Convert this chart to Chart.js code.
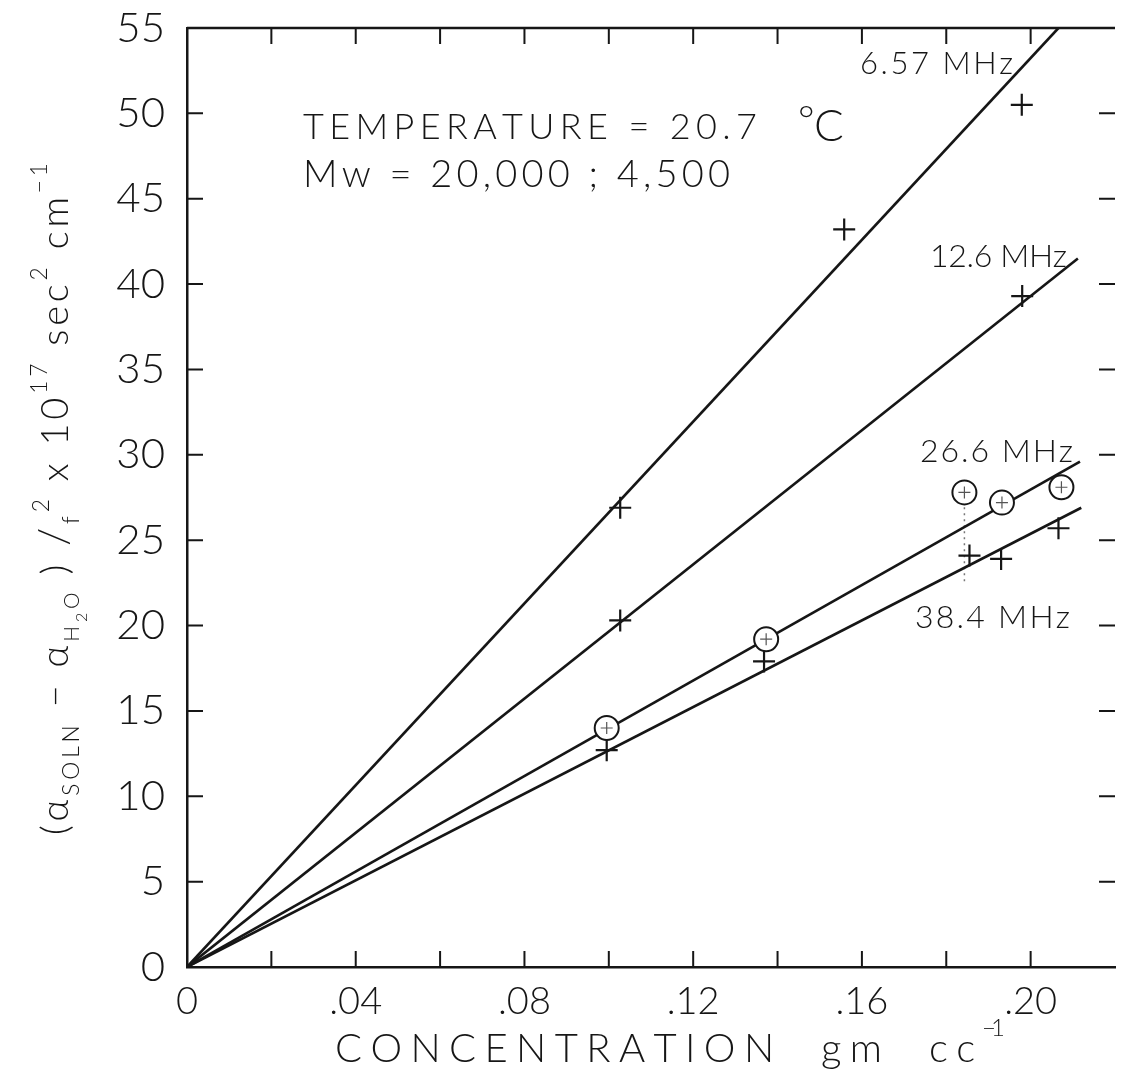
<!DOCTYPE html>
<html>
<head>
<meta charset="utf-8">
<script src="https://cdn.jsdelivr.net/npm/chart.js@4.4.1/dist/chart.umd.min.js"></script>
<style>
  html, body { margin: 0; padding: 0; background: #fff; overflow: hidden; }
  #zone { width: 1129px; height: 1074px; position: relative; }
  #graphe { display: block; }
</style>
</head>
<body>
<div id="zone"><canvas id="graphe"></canvas></div>
<script>
// valeurs (concentration gm/cc, attenuation)
var conc657 = [0.1027, 0.1558, 0.1979];
var alpha657 = [26.9, 43.2, 50.5];
var conc126 = [0.1027, 0.1980];
var alpha126 = [20.3, 39.3];
var conc266 = [0.0995, 0.1373, 0.1843, 0.1932, 0.2073];
var alpha266 = [14.0, 19.2, 27.8, 27.2, 28.1];
var conc384 = [0.0995, 0.1368, 0.1855, 0.1930, 0.2066];
var alpha384 = [12.7, 17.9, 24.1, 23.9, 25.7];

// droites : de l'origine jusqu'a l'extremite (6.57, 12.6, 26.6, 38.4 MHz)
var droiteConc = [0.2066, 0.2112, 0.2117, 0.2120];
var droiteAlpha = [55, 41.5, 29.6, 26.9];

// trait pointille vertical a 0.184
var pointilleConc = [0.1843, 0.1843];
var pointilleAlpha = [22.6, 27.3];

var xTickVals = [0, 0.04, 0.08, 0.12, 0.16, 0.20];
var xTickTxt = ['0', '.04', '.08', '.12', '.16', '.20'];

var encre = '#161616';
var police = 'Lato, "DejaVu Sans", sans-serif';

function pts(xs, ys) {
  return xs.map(function (x, i) { return { x: x, y: ys[i] }; });
}

function droite(i) {
  return [{ x: 0, y: 0 }, { x: droiteConc[i], y: droiteAlpha[i] }];
}

// texte etale entre x0 et x1 (lettrage espace)
function texteEspace(ctx, txt, x0, x1, yb, font) {
  ctx.font = font;
  var chars = Array.from(txt);
  var w = 0;
  chars.forEach(function (c) { w += ctx.measureText(c).width; });
  var gap = chars.length > 1 ? (x1 - x0 - w) / (chars.length - 1) : 0;
  var x = x0;
  chars.forEach(function (c) {
    ctx.fillText(c, x, yb);
    x += ctx.measureText(c).width + gap;
  });
}

// morceaux du titre vertical : texte, taille relative, decalage (em)
var titreY = [
  ['(', 1, 0], ['α', 1, 0], ['SOLN', 0.6, 0.3], [' − ', 1, 0], ['α', 1, 0],
  ['H', 0.55, 0.3], ['2', 0.42, 0.5], ['O', 0.55, 0.3], [' )', 1, 0],
  [' /', 1.1, 0], ['f', 0.6, 0.3], ['2', 0.6, -0.5], [' x 10', 1, 0],
  ['17', 0.6, -0.55], [' sec', 1, 0], ['2', 0.6, -0.55], [' cm', 1, 0], ['−1', 0.6, -0.55]
];

var habillage = {
  id: 'habillage',
  afterDraw: function (chart) {
    var ctx = chart.ctx, a = chart.chartArea;
    var sx = chart.scales.x, sy = chart.scales.y;
    ctx.save();
    ctx.strokeStyle = encre;
    ctx.fillStyle = encre;

    // cadre du haut
    ctx.lineWidth = 2.5;
    ctx.beginPath();
    ctx.moveTo(a.left, a.top);
    ctx.lineTo(a.right, a.top);
    ctx.stroke();

    // graduations vers l'interieur
    ctx.lineWidth = 2;
    ctx.beginPath();
    for (var v = 0.02; v < sx.max - 0.001; v += 0.02) {
      var px = sx.getPixelForValue(v);
      ctx.moveTo(px, a.bottom); ctx.lineTo(px, a.bottom - 16);
      ctx.moveTo(px, a.top); ctx.lineTo(px, a.top + 16);
    }
    for (var w = 5; w < sy.max; w += 5) {
      var py = sy.getPixelForValue(w);
      ctx.moveTo(a.left, py); ctx.lineTo(a.left + 16, py);
      ctx.moveTo(a.right, py); ctx.lineTo(a.right - 16, py);
    }
    ctx.stroke();

    // etiquettes des frequences
    ctx.textBaseline = 'alphabetic';
    texteEspace(ctx, '6.57 MHz', 860, 1013, 74, '300 31px ' + police);
    texteEspace(ctx, '12.6 MHz', 930, 1067, 267, '300 32px ' + police);
    texteEspace(ctx, '26.6 MHz', 920, 1073, 462, '300 32px ' + police);
    texteEspace(ctx, '38.4 MHz', 915, 1070, 628, '300 32px ' + police);

    // conditions
    texteEspace(ctx, 'TEMPERATURE = 20.7', 303, 757, 139, '300 36px ' + police);
    ctx.font = '300 40px ' + police;
    ctx.fillText('°', 798, 134);
    ctx.font = '300 44px ' + police;
    ctx.fillText('C', 814, 141);
    texteEspace(ctx, 'Mw = 20,000 ; 4,500', 303, 730, 187, '300 38px ' + police);

    // titre de l'axe x
    texteEspace(ctx, 'CONCENTRATION  gm  cc', 335, 975, 1062, '300 40px ' + police);
    texteEspace(ctx, '−1', 982, 1005, 1036, '300 24px ' + police);

    // titre de l'axe y (vertical, avec indices)
    var base = 38, longueur = 672;
    var total = 0, n = 0;
    titreY.forEach(function (m) {
      ctx.font = '300 ' + (base * m[1]) + 'px ' + police;
      Array.from(m[0]).forEach(function (c) { total += ctx.measureText(c).width; n++; });
    });
    var gap = (longueur - total) / (n - 1);
    ctx.translate(68, 835);
    ctx.rotate(-Math.PI / 2);
    var x = 0;
    titreY.forEach(function (m) {
      ctx.font = '300 ' + (base * m[1]) + 'px ' + police;
      Array.from(m[0]).forEach(function (c) {
        ctx.fillText(c, x, m[2] * base);
        x += ctx.measureText(c).width + gap;
      });
    });
    ctx.restore();
  }
};

Chart.defaults.font.family = police;
Chart.defaults.font.weight = 300;
Chart.defaults.color = encre;

var trait = { showLine: true, borderColor: encre, borderWidth: 2.6, pointRadius: 0, fill: false, order: 5 };

var graphe = new Chart('graphe', {
  type: 'scatter',
  data: {
    datasets: [
      { label: '6.57 MHz', data: pts(conc657, alpha657), pointStyle: 'cross', pointRadius: 11,
        borderColor: encre, pointBorderWidth: 2.2, order: 1 },
      { label: '12.6 MHz', data: pts(conc126, alpha126), pointStyle: 'cross', pointRadius: 11,
        borderColor: encre, pointBorderWidth: 2.2, order: 1 },
      { label: '26.6 MHz (croix)', data: pts(conc266, alpha266), pointStyle: 'cross', pointRadius: 6,
        borderColor: '#555', pointBorderWidth: 1.2, order: 0 },
      { label: '26.6 MHz', data: pts(conc266, alpha266), pointStyle: 'circle', pointRadius: 12,
        backgroundColor: '#fff', borderColor: encre, pointBorderWidth: 2, order: 1 },
      { label: '38.4 MHz', data: pts(conc384, alpha384), pointStyle: 'cross', pointRadius: 11,
        borderColor: encre, pointBorderWidth: 2.2, order: 2 },
      Object.assign({ label: 'droite 6.57', data: droite(0) }, trait),
      Object.assign({ label: 'droite 12.6', data: droite(1) }, trait),
      Object.assign({ label: 'droite 26.6', data: droite(2) }, trait),
      Object.assign({ label: 'droite 38.4', data: droite(3) }, trait),
      { label: 'pointille', data: pts(pointilleConc, pointilleAlpha), showLine: true, borderColor: '#777',
        borderWidth: 1.5, borderDash: [2, 4], pointRadius: 0, order: 6 }
    ]
  },
  options: {
    responsive: true,
    maintainAspectRatio: false,
    animation: false,
    layout: { padding: { top: 28, right: -5, left: 0, bottom: 0 } },
    plugins: { legend: { display: false }, tooltip: { enabled: false } },
    scales: {
      x: {
        type: 'linear', min: 0, max: 0.22,
        grid: { display: false, drawTicks: false },
        border: { display: true, color: encre, width: 2.5 },
        afterFit: function (s) { s.height = 107; s.paddingLeft = 0; s.paddingRight = 0; },
        ticks: {
          stepSize: 0.02, autoSkip: false, maxRotation: 0, padding: 12,
          font: { size: 38, weight: 300 }, color: encre,
          callback: function (v) {
            for (var i = 0; i < xTickVals.length; i++) {
              if (Math.abs(v - xTickVals[i]) < 1e-6) return xTickTxt[i];
            }
            return '';
          }
        }
      },
      y: {
        type: 'linear', min: 0, max: 55,
        grid: { display: false, drawTicks: false },
        border: { display: true, color: encre, width: 2.5 },
        afterFit: function (s) { s.width = 187; s.paddingTop = 0; s.paddingBottom = 0; },
        ticks: { stepSize: 5, padding: 22, font: { size: 42, weight: 300 }, color: encre }
      }
    }
  },
  plugins: [habillage]
});
</script>
</body>
</html>
